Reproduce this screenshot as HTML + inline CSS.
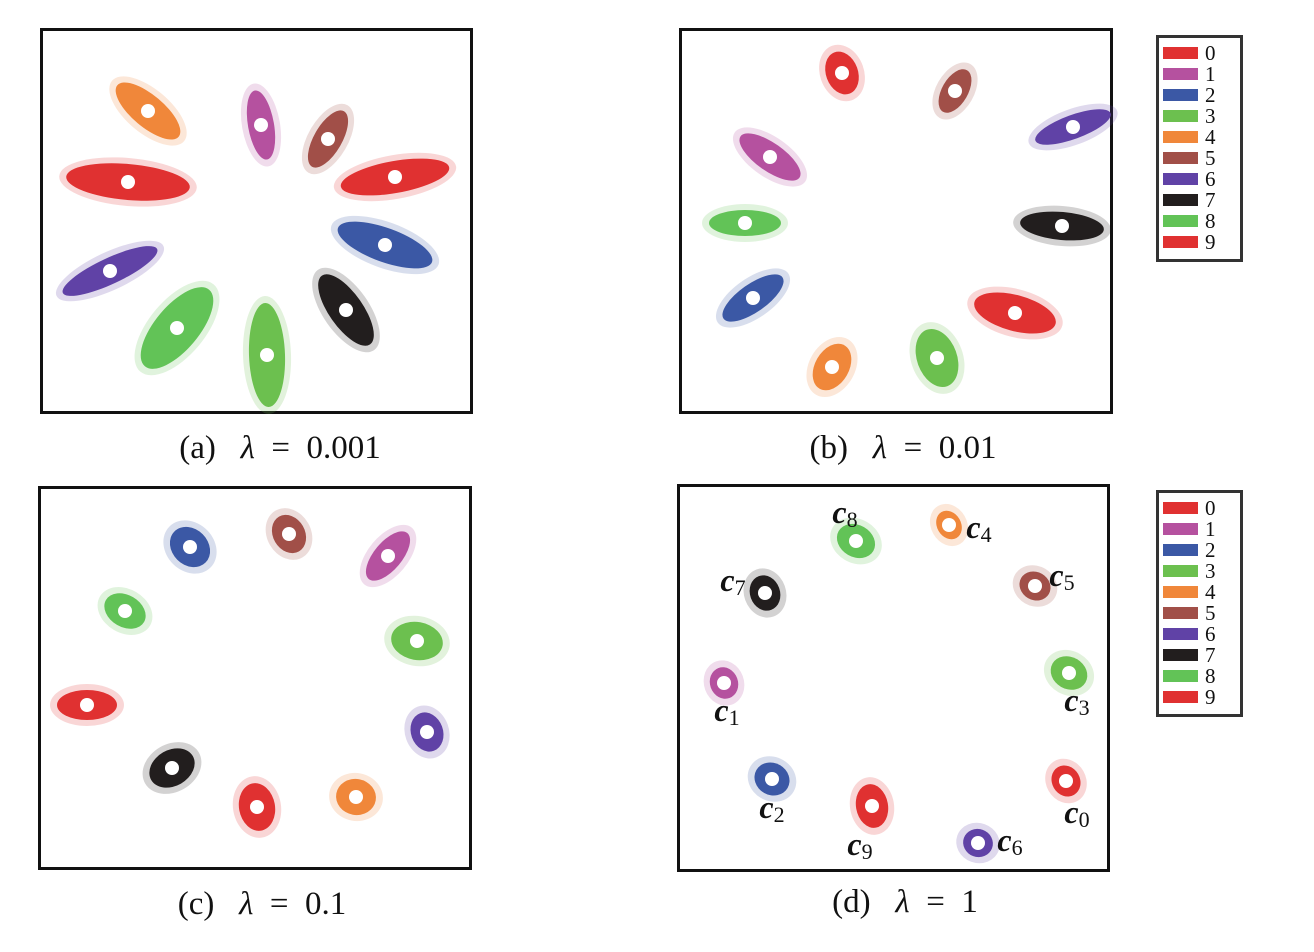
<!DOCTYPE html>
<html><head><meta charset="utf-8"><style>
html,body{margin:0;padding:0;background:#fff;}
svg{display:block;font-family:"Liberation Serif",serif;}
</style></head><body>
<svg id="root" width="1314" height="952" viewBox="0 0 1314 952" xmlns="http://www.w3.org/2000/svg">
<g id="panels"></g>
<g id="legends"></g>
</svg>
<script>
const NS="http://www.w3.org/2000/svg";
const colors=["#e03131","#b5519f","#3b58a5","#6cc04f","#f0873a","#a14f48","#6042a6","#221e1e","#62c357","#e03131"];
const digits=["0","1","2","3","4","5","6","7","8","9"];
const panelX=[40,679,38,677];
const panelY=[28,28,486,484];
const panelW=[433,434,434,433];
const panelH=[386,386,384,388];
const capPrefix=["(a)","(b)","(c)","(d)"];
const capValue=["0.001","0.01","0.1","1"];
const captionX=[280,903,262,905];
const captionY=[458,458,914,912];
const aX=[355,221,345,227,108,288,70,306,137,88];
const aY=[149,97,217,327,83,111,243,282,300,154];
const aAng=[-10,80,20,88,40,-60,-25,55,-50,5];
const aLen=[55,35,50,52,40,32,52,42,50,62];
const aWid=[16,13,17,18,16,14,13,17,22,18];
const bX=[163,91,74,258,153,276,394,383,66,336];
const bY=[45,129,270,330,339,63,99,198,195,285];
const bAng=[70,35,-35,70,-60,-60,-20,5,0,15];
const bLen=[22,36,36,30,25,24,40,42,36,42];
const bWid=[16,14,14,20,17,13,12,14,13,18];
const cX=[49,350,152,379,318,251,389,134,87,219];
const cY=[219,70,61,155,311,48,246,282,125,321];
const cAng=[0,-50,45,10,10,60,70,-30,30,80];
const cLen=[30,30,22,26,20,20,20,24,22,24];
const cWid=[15,14,18,19,18,16,16,18,16,18];
const dX=[389,47,95,392,272,358,301,88,179,195];
const dY=[297,199,295,189,41,102,359,109,57,322];
const dAng=[60,70,30,30,60,30,20,70,30,80];
const dLen=[16,16,18,19,15,16,15,18,20,22];
const dWid=[14,14,16,16,12,14,14,15,16,16];
const dLabDX=[11,3,0,8,30,27,32,-32,-11,-12];
const dLabDY=[34,30,31,30,5,-8,0,-10,-26,41];
const panelData=[[aX,aY,aAng,aLen,aWid],[bX,bY,bAng,bLen,bWid],[cX,cY,cAng,cLen,cWid],[dX,dY,dAng,dLen,dWid]];
const legendX=[1156,1156];
const legendY=[35,490];
const legendW=87, legendH=227;

function sx(p,v){return panelX[p]+v;}
function sy(p,v){return panelY[p]+v;}
function mk(tag,attrs,parent){const e=document.createElementNS(NS,tag);for(const k in attrs)e.setAttribute(k,attrs[k]);parent.appendChild(e);return e;}

const gp=document.getElementById('panels');
for(let p=0;p<4;p++){
  const g=mk('g',{},gp);
  
  
  const r=mk('rect',{x:panelX[p]+1.5,y:panelY[p]+1.5,width:panelW[p]-3,height:panelH[p]-3,fill:'#fff',stroke:'#111','stroke-width':3},g);
  
  
  const [X,Y,A,L,W]=panelData[p];
  for(let i=0;i<10;i++){
    const cg=mk('g',{},g);
    
    
    const x=sx(p,X[i]), y=sy(p,Y[i]);
    const h=mk('ellipse',{cx:x,cy:y,rx:L[i]+7,ry:W[i]+6,fill:colors[i],opacity:0.2,transform:`rotate(${A[i]} ${x} ${y})`},cg);
    
    
    const e=mk('ellipse',{cx:x,cy:y,rx:L[i],ry:W[i],fill:colors[i],transform:`rotate(${A[i]} ${x} ${y})`},cg);
    
    
    const c=mk('circle',{cx:x,cy:y,r:7,fill:'#fff'},cg);
    
    
    if(p===3){
      const t=mk('text',{x:x+dLabDX[i],y:y+dLabDY[i]+8,'font-size':32,'font-weight':'bold','font-style':'italic','text-anchor':'middle',fill:'#111'},cg);
      
      
      t.textContent='c';
      const s=mk('tspan',{'font-size':22,'font-weight':'normal','font-style':'normal',dy:4},t);
      s.textContent=digits[i];
    }
  }
  const cap=mk('text',{x:captionX[p],y:captionY[p],'font-size':33,'text-anchor':'middle',fill:'#111'},gp);
  
  
  cap.textContent=capPrefix[p]+'\u00A0\u00A0\u00A0';
  const lam=mk('tspan',{'font-style':'italic'},cap);
  lam.textContent='λ';
  const rest=mk('tspan',{},cap);
  rest.textContent='\u00A0\u00A0=\u00A0\u00A0'+capValue[p];
}
const gl=document.getElementById('legends');
for(let l=0;l<2;l++){
  const g=mk('g',{},gl);
  
  
  const r=mk('rect',{x:legendX[l]+1.5,y:legendY[l]+1.5,width:legendW-3,height:legendH-3,fill:'#fff',stroke:'#333','stroke-width':3},g);
  
  
  for(let i=0;i<10;i++){
    const yy=legendY[l]+18+i*21;
    const sw=mk('rect',{x:legendX[l]+7,y:yy-6,width:35,height:12,fill:colors[i]},g);
    
    
    const t=mk('text',{x:legendX[l]+49,y:yy+7,'font-size':21,fill:'#111'},g);
    
    
    t.textContent=digits[i];
  }
}
</script>
</body></html>
